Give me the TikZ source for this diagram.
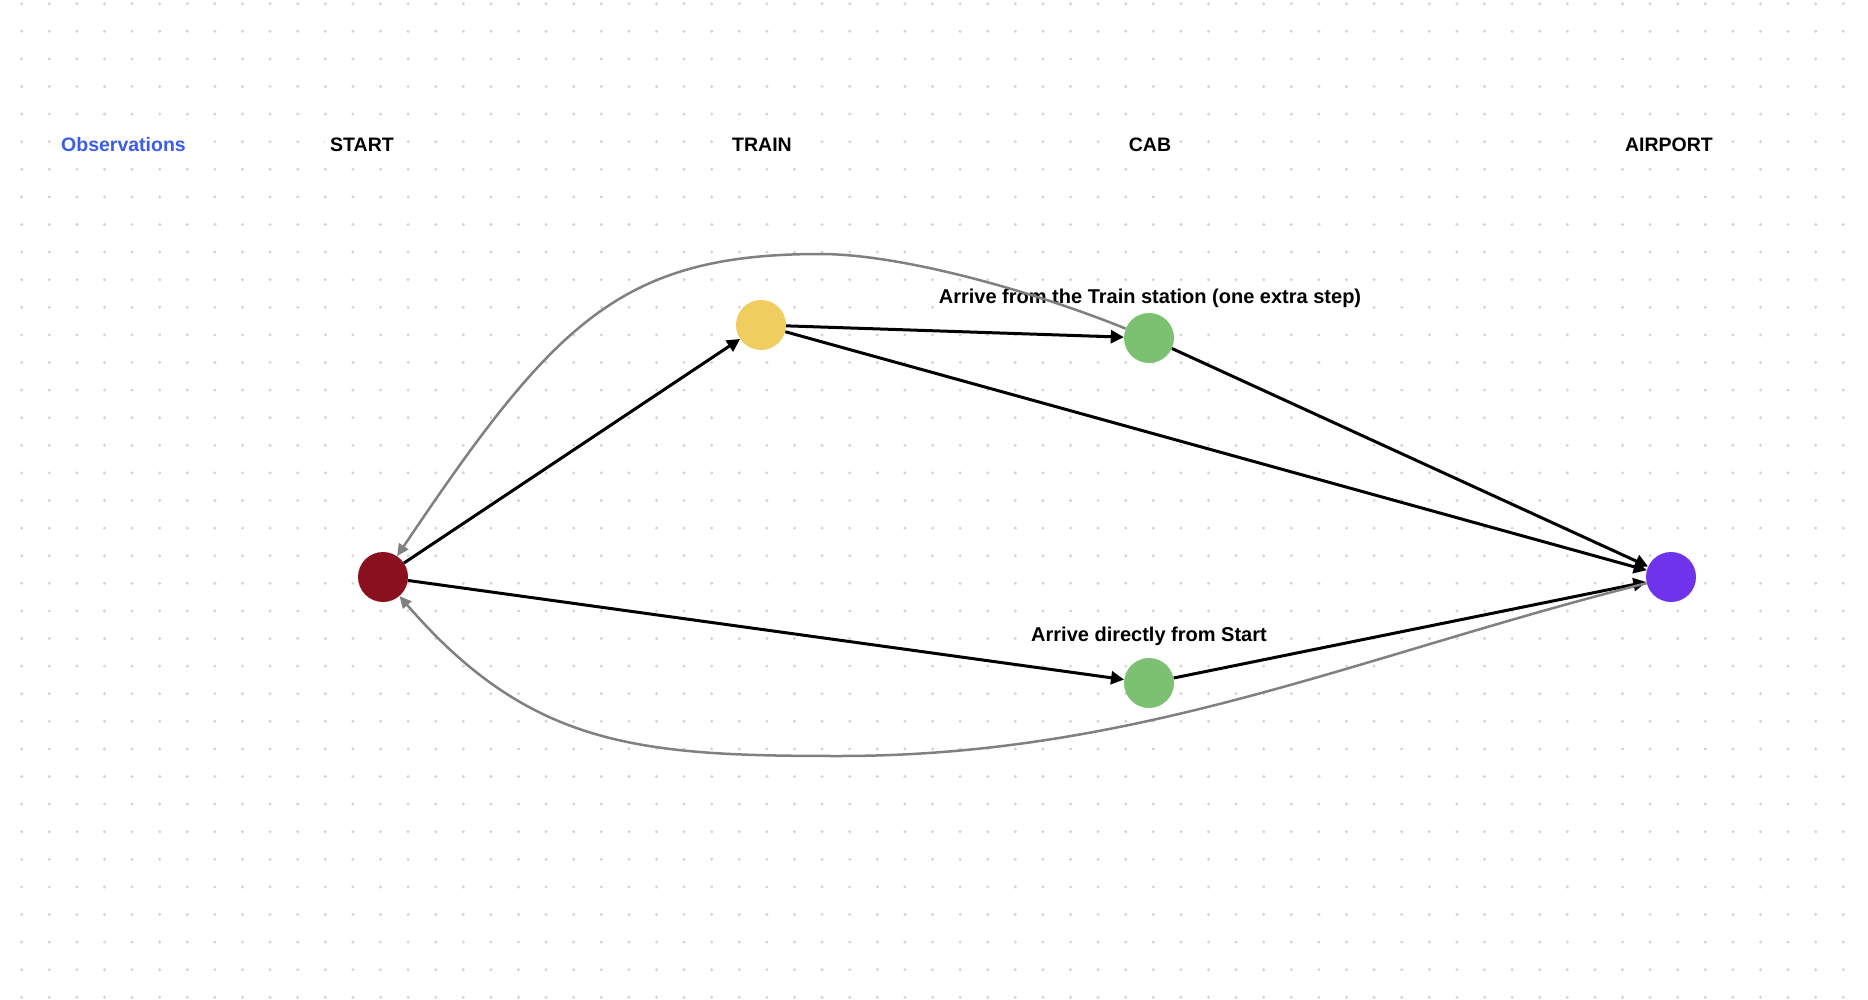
\documentclass[tikz,border=0pt]{standalone}
\usepackage{fontspec}
\setmainfont{Liberation Sans}
\usetikzlibrary{arrows.meta}
\definecolor{cred}{HTML}{8B101F}
\definecolor{cyellow}{HTML}{F0CD5F}
\definecolor{cgreen}{HTML}{7CC172}
\definecolor{cpurple}{HTML}{6F33EB}
\definecolor{cblue}{HTML}{3B5EE6}
\definecolor{grayline}{HTML}{808080}
\definecolor{dotgray}{HTML}{D3D3D3}
\begin{document}
\begin{tikzpicture}[x=1pt,y=-1pt,
  state/.style={circle, minimum size=50pt, inner sep=0pt, draw=none},
  txt/.style={font=\fontsize{19.5}{22}\selectfont\bfseries, fill=white, inner xsep=5pt, inner ysep=3pt, text height=18pt, text depth=4pt},
  lbl/.style={txt, font=\fontsize{20}{22}\selectfont\bfseries},
  flow/.style={line width=3pt, black, -{Triangle[length=13pt,width=13pt]}},
  back/.style={line width=2.5pt, grayline, -{Triangle[length=12pt,width=11pt]}}
]
\useasboundingbox (0,0) rectangle (1868,1000);
\fill[white] (0,0) rectangle (1868,1000);
\foreach \i in {0,...,66}{
  \foreach \j in {0,...,36}{
    \fill[dotgray] (21.7+27.6*\i, 3.7+27.6*\j) circle (1.6);
  }
}
% headers
\node[txt, text=cblue] (obs) at (123.5,145) {Observations};
\node[txt] (hstart) at (362,145) {START};
\node[txt] (htrain) at (762,145) {TRAIN};
\node[txt] (hcab) at (1150,145) {CAB};
\node[txt] (hair) at (1669,145) {AIRPORT};
% labels
\node[lbl] (lab1) at (1150,297) {Arrive from the Train station (one extra step)};
\node[lbl] (lab2) at (1149,634) {Arrive directly from Start};
% states
\node[state, fill=cred] (start) at (383,577) {};
\node[state, fill=cyellow] (train) at (761,325) {};
\node[state, fill=cgreen] (cab1) at (1149,338) {};
\node[state, fill=cgreen] (cab2) at (1149,683) {};
\node[state, fill=cpurple] (air) at (1671,577) {};
% bends of the return curves
\coordinate (toppk) at (820,254);
\coordinate (botpk) at (839,756);
% edges
\draw[flow] (start) -- (train);
\draw[flow] (train) -- (cab1);
\draw[flow] (train) -- (air);
\draw[flow] (cab1) -- (air);
\draw[flow] (start) -- (cab2);
\draw[flow] (cab2) -- (air);
\draw[back] (cab1) .. controls (1030,290) and (900,254) .. (toppk)
                   .. controls (620,254) and (554,323) .. (start);
\draw[back] (air) .. controls (1357,656) and (1139,756) .. (botpk)
                  .. controls (639,756) and (530,747) .. (start);
\end{tikzpicture}
\end{document}
